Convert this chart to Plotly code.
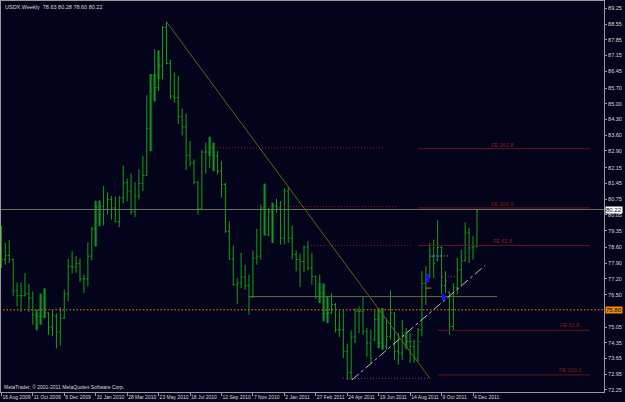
import plotly.graph_objects as go

# ---------------- data (USDX weekly) ----------------
bar_index = list(range(122))
opens = [79.25,78.06,78.24,78.06,76.67,76.45,76.45,76.54,76.35,75.60,
         75.53,75.53,75.68,75.05,75.55,74.83,75.45,76.53,77.76,77.73,
         77.88,77.20,77.20,78.21,79.43,80.40,80.44,80.29,80.74,80.36,
         79.75,80.81,81.48,81.11,80.19,80.89,81.45,81.81,83.89,86.27,
         85.72,86.69,88.40,86.80,85.35,85.28,84.43,83.97,82.70,82.37,
         81.51,80.32,82.85,82.85,83.04,82.67,82.00,81.41,79.32,78.09,
         76.94,77.02,77.28,76.90,76.39,78.13,78.21,80.36,79.17,80.19,
         80.44,80.36,79.02,81.11,79.02,78.28,78.06,77.98,78.62,77.69,
         77.31,76.42,76.57,75.65,75.68,76.05,74.93,74.93,73.97,73.03,
         74.61,75.75,75.75,74.86,74.34,74.50,75.38,74.34,74.19,74.64,
         75.68,73.97,73.89,74.64,74.41,74.19,73.67,74.93,77.00,77.31,
         78.20,78.05,78.60,76.90,76.60,75.08,76.80,77.60,78.00,79.25,
         78.58,78.63]
highs = [79.55,78.80,78.92,78.10,77.05,77.05,77.46,76.97,76.63,75.83,
         76.54,76.78,75.72,75.83,75.65,75.94,76.72,78.10,78.43,78.21,
         78.10,77.39,78.83,79.52,80.69,80.69,81.33,81.06,80.89,80.86,
         80.89,82.25,81.66,81.90,81.51,82.08,82.67,85.38,86.32,87.43,
         87.39,88.47,88.65,86.96,86.39,86.24,84.78,84.56,83.34,82.52,
         81.55,82.94,83.27,83.53,83.27,82.89,82.45,81.48,79.77,78.68,
         77.24,78.36,77.83,77.39,78.47,79.43,80.51,81.44,80.36,80.59,
         80.77,80.66,81.26,81.29,79.58,78.47,78.33,78.68,78.88,78.36,
         77.34,77.39,76.99,76.42,76.57,76.12,75.80,75.80,74.31,74.90,
         75.90,75.97,76.39,75.01,74.93,75.83,75.90,75.90,75.45,76.69,
         75.70,74.78,75.38,75.01,74.78,74.49,75.01,77.54,77.76,78.80,
         78.95,79.81,78.65,77.54,76.64,77.00,78.13,78.50,79.72,79.47,
         79.10,80.28]
lows = [77.69,77.83,77.91,76.42,75.97,75.72,76.42,75.72,75.16,74.90,
        75.16,75.45,74.71,74.64,74.11,74.23,75.42,76.20,77.43,77.46,
        77.06,76.57,76.87,78.03,78.65,79.55,79.58,80.07,79.84,79.72,
        79.50,80.56,80.66,80.07,79.96,80.74,81.11,81.78,82.89,85.08,
        85.57,86.09,86.76,85.20,85.05,84.11,83.59,82.05,82.22,81.41,
        80.07,80.26,81.90,82.15,82.00,81.85,80.81,79.25,78.06,76.90,
        76.09,76.79,76.72,75.60,76.35,77.83,78.06,79.14,79.10,78.80,
        80.14,78.73,78.73,78.80,78.06,77.54,76.84,77.49,77.58,76.94,
        76.30,76.12,75.31,75.23,75.65,74.81,74.61,73.67,72.70,72.70,
        74.34,74.78,74.71,73.74,73.42,74.41,74.11,74.04,74.04,74.49,
        73.59,73.37,73.59,74.04,73.45,73.45,73.52,74.64,76.05,77.24,
        77.24,77.98,76.50,76.57,74.71,74.93,76.50,76.87,77.98,77.91,
        78.06,78.60]
closes = [78.06,78.24,78.06,76.67,76.45,76.45,76.54,76.35,75.60,75.53,
          75.53,75.68,75.05,75.60,74.83,75.45,76.53,77.76,77.73,77.88,
          77.20,77.20,78.21,79.43,80.40,80.44,80.29,80.74,80.36,79.75,
          80.81,81.48,81.11,80.19,80.89,81.45,81.81,83.89,86.27,85.72,
          86.69,88.40,86.80,85.35,85.28,84.43,83.97,82.70,82.37,81.51,
          80.32,82.85,82.85,83.04,82.67,82.00,81.41,79.32,78.09,76.94,
          77.02,77.28,76.90,76.39,78.13,78.21,80.36,79.17,80.19,80.44,
          80.36,79.02,81.11,79.02,78.28,78.06,77.98,78.62,77.69,77.31,
          76.42,76.57,75.65,75.68,76.05,74.93,74.93,73.97,73.03,74.61,
          75.75,75.75,74.86,74.34,73.67,75.38,74.34,74.19,74.64,75.68,
          73.97,73.89,74.64,74.41,74.19,73.67,74.93,77.00,77.31,78.20,
          77.90,78.60,76.90,77.10,75.08,76.80,77.60,78.00,79.25,78.58,
          78.63,80.22]

# dark (heiken-ashi style) body overlays: bar index, top, bottom
ha_index = [9, 10, 11, 24, 25, 38, 39, 40, 53, 54, 67, 69, 81, 82, 83, 96, 97, 103]
ha_top = [75.83,76.54,76.78,80.66,80.69,86.32,86.32,87.36,83.53,83.27,81.44,80.59,77.02,76.99,76.42,75.90,75.90,74.86]
ha_bottom = [74.93,75.16,75.45,78.65,79.55,82.89,85.13,86.09,82.67,82.00,79.14,78.80,76.12,75.31,75.23,74.11,74.04,74.11]

date_ticks = [0, 8, 16, 24, 32, 40, 48, 56, 64, 72, 80, 88, 96, 104, 112, 120]
date_labels = ["16 Aug 2009", "11 Oct 2009", "6 Dec 2009", "31 Jan 2010", "28 Mar 2010",
               "23 May 2010", "18 Jul 2010", "12 Sep 2010", "7 Nov 2010", "2 Jan 2011",
               "27 Feb 2011", "24 Apr 2011", "19 Jun 2011", "14 Aug 2011", "9 Oct 2011",
               "4 Dec 2011"]
price_ticks = [89.25, 88.55, 87.85, 87.15, 86.45, 85.70, 85.00, 84.30, 83.60, 82.90,
               82.15, 81.45, 80.75, 80.05, 79.35, 78.60, 77.90, 77.20, 76.50, 75.05,
               74.35, 73.65, 72.95, 72.25]

bid_level = 80.29
bid_text = "80.22"
alert_level = 75.83
alert_text = "75.80"

# trend lines (bar index, price)
down_trend_x = [42, 109]
down_trend_y = [88.65, 72.77]
up_trend_x = [89.2, 123.0]
up_trend_y = [72.70, 77.79]

# fibonacci expansion levels: (x0, x1, price, label)
fe_upper_dotted = [(52.6, 97.1, 83.04), (65.0, 100.7, 80.42), (78.0, 104.7, 78.69)]
fe_upper_solid = [(106.0, 149.8, 83.00, "FE 161.8"), (106.0, 149.8, 80.36, "FE 100.0"),
                  (106.0, 149.8, 78.69, "FE 61.8")]
fe_lower_solid = [(111.1, 149.8, 74.91, "FE 61.8"), (111.1, 149.8, 72.92, "FE 100.0")]
olive_level = (63.0, 126.1, 76.41)
magenta_levels = [(86.9, 109.1, 72.77), (104.2, 106.9, 74.40), (112.1, 115.7, 77.29)]

BG = "#04031c"
GREEN = "#12a412"
FONT = "Liberation Sans"

fig = go.Figure()

fig.add_trace(go.Bar(x=ha_index, y=[t - b for t, b in zip(ha_top, ha_bottom)], base=ha_bottom,
                     width=0.8, marker=dict(color="#134a2c", line=dict(width=0)),
                     showlegend=False, hoverinfo="skip"))

fig.add_trace(go.Ohlc(x=bar_index, open=opens, high=highs, low=lows, close=closes,
                      increasing=dict(line=dict(color=GREEN, width=1)),
                      decreasing=dict(line=dict(color=GREEN, width=1)),
                      tickwidth=0.35, showlegend=False))

def hline(x0, x1, y, color, dash="solid", width=1):
    fig.add_trace(go.Scatter(x=[x0, x1], y=[y, y], mode="lines",
                             line=dict(color=color, width=width, dash=dash),
                             showlegend=False, hoverinfo="skip"))

# full width bid + alert lines
hline(-0.5, 160, bid_level, "#6e6e60", width=1.2)
hline(-0.5, 160, alert_level, "#a85a10", dash="1.5px,2px", width=1.5)

for x0, x1, y in fe_upper_dotted:
    hline(x0, x1, y, "#a01515", dash="1px,2px")
for x0, x1, y, _ in fe_upper_solid + fe_lower_solid:
    hline(x0, x1, y, "#6a1414")
hline(olive_level[0], olive_level[1], olive_level[2], "#6a6a44")
for x0, x1, y in magenta_levels:
    hline(x0, x1, y, "#b020b0", dash="1px,2px")

fig.add_trace(go.Scatter(x=down_trend_x, y=down_trend_y, mode="lines",
                         line=dict(color="#646414", width=1), showlegend=False, hoverinfo="skip"))
fig.add_trace(go.Scatter(x=up_trend_x, y=up_trend_y, mode="lines",
                         line=dict(color="#bcbcbc", width=1, dash="dashdot"),
                         showlegend=False, hoverinfo="skip"))

# small markers (blue boxes, red vertical, small dotted)
fig.add_trace(go.Scatter(x=[108.4, 108.4], y=[77.05, 77.42], mode="lines",
                         line=dict(color="#1414ff", width=3.5), showlegend=False, hoverinfo="skip"))
fig.add_trace(go.Scatter(x=[112.5, 112.5], y=[76.27, 76.51], mode="lines",
                         line=dict(color="#1414ff", width=3.5), showlegend=False, hoverinfo="skip"))
fig.add_trace(go.Scatter(x=[108.1, 108.1], y=[76.05, 77.74], mode="lines",
                         line=dict(color="#b01010", width=1, dash="1px,2px"), showlegend=False, hoverinfo="skip"))
hline(109.1, 111.9, 78.22, "#3a6cff", dash="1px,1px", width=1.5)
hline(111.9, 113.9, 78.22, "#c8c800", dash="1px,2px", width=1)
hline(108.1, 109.4, 76.79, "#9a8a20")

annotations = []
for x0, x1, y, label in fe_upper_solid:
    annotations.append(dict(x=127.5, y=y, xref="x", yref="y", text=label, showarrow=False,
                            yanchor="bottom", yshift=-1,
                            font=dict(family=FONT, size=5.5, color="#8c1c1c")))
for x0, x1, y, label in fe_lower_solid:
    annotations.append(dict(x=144.6, y=y, xref="x", yref="y", text=label, showarrow=False,
                            yanchor="bottom", yshift=0,
                            font=dict(family=FONT, size=5.5, color="#8c1c1c")))

annotations.append(dict(x=0.004, y=0.997, xref="paper", yref="paper", xanchor="left", yanchor="top",
                        text="USDX,Weekly  78.63 80.28 78.60 80.22", showarrow=False,
                        font=dict(family=FONT, size=5.5, color="#d8d8d8")))
annotations.append(dict(x=0.002, y=0.0, xref="paper", yref="paper", xanchor="left", yanchor="bottom",
                        text="MetaTrader, © 2001-2011 MetaQuotes Software Corp.", showarrow=False,
                        font=dict(family=FONT, size=5, color="#d8d8d8")))
annotations.append(dict(x=1.0, y=bid_level, xref="paper", yref="y", xanchor="left", yanchor="middle",
                        xshift=1, text=bid_text, showarrow=False, bgcolor="#ffffff", borderpad=0,
                        font=dict(family=FONT, size=6, color="#000000")))
annotations.append(dict(x=1.0, y=alert_level, xref="paper", yref="y", xanchor="left", yanchor="middle",
                        xshift=1, text=alert_text, showarrow=False, bgcolor="#f08c00", borderpad=0,
                        font=dict(family=FONT, size=6, color="#000000")))

fig.update_layout(
    width=625, height=402,
    margin=dict(l=1, r=21, t=1, b=10),
    paper_bgcolor=BG, plot_bgcolor=BG,
    barmode="overlay",
    showlegend=False,
    annotations=annotations,
    xaxis=dict(range=[-0.1, 153.33], showgrid=False, zeroline=False,
               rangeslider=dict(visible=False),
               tickmode="array", tickvals=date_ticks, ticktext=date_labels,
               ticks="outside", ticklen=3, tickcolor="#9a9a9a", tickangle=0,
               ticklabelposition="outside right",
               tickfont=dict(family=FONT, size=5, color="#d8d8d8"),
               showline=True, linecolor="#9a9a9a", linewidth=1, mirror=True),
    yaxis=dict(range=[72.16, 89.58], side="right", showgrid=False, zeroline=False,
               tickmode="array", tickvals=price_ticks,
               ticktext=[f"{v:.2f}" for v in price_ticks],
               ticks="outside", ticklen=2, tickcolor="#9a9a9a",
               tickfont=dict(family=FONT, size=5.5, color="#d8d8d8"),
               showline=True, linecolor="#9a9a9a", linewidth=1, mirror=True),
)

fig.write_html("out.html")
